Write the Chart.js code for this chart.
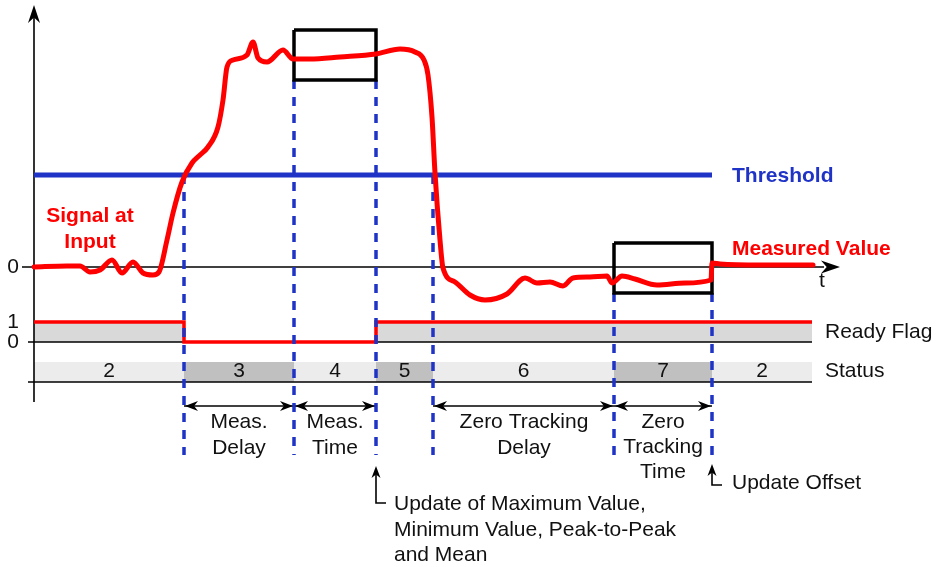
<!DOCTYPE html>
<html>
<head>
<meta charset="utf-8">
<script src="https://cdn.jsdelivr.net/npm/chart.js@4"></script>
<style>
  body { margin: 0; background: #fff; }
  canvas { display: block; }
</style>
</head>
<body>
<canvas id="timing" width="945" height="567"></canvas>
<script>
// signal at input (time in ticks, value in counts)
const signalTime = [0, 3.3, 4.6, 5.6, 6.6, 7.8, 8.8, 9.9, 10.9, 11.9, 12.5, 13.3, 13.9, 14.8, 15.8, 16.6, 17.4, 18.4, 18.9, 19.3,
  19.9, 21.3, 21.9, 22.4, 23.3, 24.9, 25.9, 27.6, 30.6, 34.2, 36.6, 38.1, 39.0, 39.4, 39.8, 40.1, 40.6, 40.9, 42.1, 43.6,
  45.1, 47.3, 49.1, 50.3, 51.6, 52.9, 53.9, 55.6, 57.3, 57.8, 58.8, 60.1, 62.3, 65.1, 67.7, 67.8, 68.6, 72.6, 77.9];
const signalValue = [0, 0.5, 0.5, -2.5, -1.5, 3.5, -3, 2.5, -3, -4, -2.5, 13.5, 27, 42.5, 52, 56, 60, 70, 83.5, 100,
  103.5, 106, 112.5, 104.5, 102.5, 108.5, 104, 104, 105, 106.5, 109, 107.5, 103.5, 96, 75, 47, 13.5, -0.5, -7.5, -14,
  -16.5, -13.5, -5.5, -8, -7.5, -9.5, -5.5, -5, -4.5, -8, -4.5, -6, -9, -8, -6.5, 2, 1.5, 1, 1];
const threshold = 46;

// events: ready drop, meas start, meas end, zero tracking delay start, zero tracking start, zero tracking end
const eventTimes = [15, 26, 34.2, 39.9, 58, 67.8];
const endTime = 77.8;

// measurement windows
const maxWindow = [93.5, 118.5];
const zeroWindow = [-13, 12];

// ready flag
const readyTime = [0, 15, 34.2, 77.8];
const readyValue = [1, 0, 1, 1];

// status
const statusCodes = ['2', '3', '4', '5', '6', '7', '2'];
const statusStart = [0, 15, 26, 34.2, 39.9, 58, 67.8];
const statusEnd = [15, 26, 34.2, 39.9, 58, 67.8, 77.8];
const statusDark = [false, true, false, true, false, true, false];

const RED = '#ff0000';
const BLUE = '#1f33c6';
const FONT = '"Liberation Sans", Arial, sans-serif';

const datasets = [];
const line = (pts, color, width, axis, extra) => Object.assign({
  data: pts, showLine: true, borderColor: color, borderWidth: width, pointRadius: 0,
  yAxisID: axis || 'y', fill: false, tension: 0, clip: false
}, extra || {});

// signal on top
datasets.push(line(signalTime.map((t, i) => ({ x: t, y: signalValue[i] })), RED, 5, 'y',
  { cubicInterpolationMode: 'monotone', order: 1, borderCapStyle: 'round', borderJoinStyle: 'round' }));

// windows
const box = (t0, t1, v) => [{ x: t0, y: v[1] }, { x: t1, y: v[1] }, { x: t1, y: v[0] }, { x: t0, y: v[0] }, { x: t0, y: v[1] }];
datasets.push(line(box(eventTimes[1], eventTimes[2], maxWindow), '#000', 3.5, 'y', { order: 2 }));
datasets.push(line(box(eventTimes[4], eventTimes[5], zeroWindow), '#000', 3.5, 'y', { order: 2 }));

// threshold
datasets.push(line([{ x: 0, y: threshold }, { x: eventTimes[5], y: threshold }], BLUE, 5, 'y', { order: 3 }));

// dashed event lines
const dashTop = [threshold, maxWindow[0], maxWindow[0], threshold, zeroWindow[0], zeroWindow[0]];
eventTimes.forEach((t, i) => {
  datasets.push(line([{ x: t, y: dashTop[i] }, { x: t, y: -94 }], BLUE, 3.5, 'y', { borderDash: [9, 8], order: 4 }));
});

// ready flag line (drawn above the black base line), grey area below it
const readyPts = readyTime.map((t, i) => ({ x: t, y: readyValue[i] }));
datasets.push(line(readyPts, RED, 3.5, 'yf', { stepped: true, order: 4.5 }));
datasets.push(line(readyPts, 'rgba(0,0,0,0)', 0, 'yf',
  { stepped: true, fill: 'origin', backgroundColor: '#d9d9d9', order: 9 }));

// axes
datasets.push(line([{ x: 0, y: -67.5 }, { x: 0, y: 128 }], '#000', 1.6, 'y', { order: 5 }));
datasets.push(line([{ x: -1.2, y: 0 }, { x: 79, y: 0 }], '#000', 1.6, 'y', { order: 5 }));
datasets.push(line([{ x: -0.6, y: 0 }, { x: endTime, y: 0 }], '#000', 1.6, 'yf', { order: 5 }));

// status band
statusCodes.forEach((c, i) => {
  datasets.push(line([{ x: statusStart[i], y: -1 }, { x: statusEnd[i], y: -1 }], 'rgba(0,0,0,0)', 0, 'yf',
    { fill: { value: -2 }, backgroundColor: statusDark[i] ? '#c0c0c0' : '#ececec', order: 9 }));
});
datasets.push(line([{ x: -0.6, y: -2 }, { x: endTime, y: -2 }], '#000', 1.6, 'yf', { order: 5 }));

// span arrows
const spans = [[0, 1], [1, 2], [3, 4], [4, 5]];
spans.forEach(s => {
  datasets.push(line([{ x: eventTimes[s[0]], y: -3.2 }, { x: eventTimes[s[1]], y: -3.2 }], '#000', 1.5, 'yf', { order: 5 }));
});

// update pointers
datasets.push(line([{ x: eventTimes[2], y: -6.4 }, { x: eventTimes[2], y: -8.05 }, { x: eventTimes[2] + 1, y: -8.05 }], '#000', 1.6, 'yf', { order: 5 }));
datasets.push(line([{ x: eventTimes[5], y: -6.3 }, { x: eventTimes[5], y: -7.15 }, { x: eventTimes[5] + 1, y: -7.15 }], '#000', 1.6, 'yf', { order: 5 }));

function arrowHead(ctx, x, y, ang, len, half) {
  ctx.save();
  ctx.translate(x, y);
  ctx.rotate(ang);
  ctx.beginPath();
  ctx.moveTo(0, 0);
  ctx.lineTo(-len, -half);
  ctx.lineTo(-len * 0.7, 0);
  ctx.lineTo(-len, half);
  ctx.closePath();
  ctx.fillStyle = '#000';
  ctx.fill();
  ctx.restore();
}

const texts = [
  { s: 'Threshold', t: 69.8, v: threshold - 0.5, axis: 'y', color: BLUE, bold: true, align: 'left' },
  { s: 'Measured Value', t: 69.8, v: 9, axis: 'y', color: RED, bold: true, align: 'left' },
  { s: 'Signal at', t: 5.6, v: 25.5, axis: 'y', color: RED, bold: true },
  { s: 'Input', t: 5.6, v: 12.5, axis: 'y', color: RED, bold: true },
  { s: '0', t: -1.5, v: 0, axis: 'y', align: 'right' },
  { s: 't', t: 78.8, v: -7, axis: 'y' },
  { s: '1', t: -1.5, v: 1, axis: 'yf', align: 'right' },
  { s: '0', t: -1.5, v: 0, axis: 'yf', align: 'right' },
  { s: 'Ready Flag', t: 79.1, v: 0.5, axis: 'yf', align: 'left' },
  { s: 'Status', t: 79.1, v: -1.45, axis: 'yf', align: 'left' },
  { s: 'Meas.', t: 20.5, v: -4, axis: 'yf' },
  { s: 'Delay', t: 20.5, v: -5.3, axis: 'yf' },
  { s: 'Meas.', t: 30.1, v: -4, axis: 'yf' },
  { s: 'Time', t: 30.1, v: -5.3, axis: 'yf' },
  { s: 'Zero Tracking', t: 49.0, v: -4, axis: 'yf' },
  { s: 'Delay', t: 49.0, v: -5.3, axis: 'yf' },
  { s: 'Zero', t: 62.9, v: -4, axis: 'yf' },
  { s: 'Tracking', t: 62.9, v: -5.25, axis: 'yf' },
  { s: 'Time', t: 62.9, v: -6.5, axis: 'yf' },
  { s: 'Update of Maximum Value,', t: 36.0, v: -8.1, axis: 'yf', align: 'left' },
  { s: 'Minimum Value, Peak-to-Peak', t: 36.0, v: -9.4, axis: 'yf', align: 'left' },
  { s: 'and Mean', t: 36.0, v: -10.65, axis: 'yf', align: 'left' },
  { s: 'Update Offset', t: 69.8, v: -7.05, axis: 'yf', align: 'left' }
];

const decor = {
  id: 'decor',
  afterDatasetsDraw(chart) {
    const ctx = chart.ctx, X = chart.scales.x;
    const px = t => X.getPixelForValue(t);
    const py = (v, a) => chart.scales[a].getPixelForValue(v);
    // status numbers
    ctx.save();
    ctx.font = '21px ' + FONT;
    ctx.fillStyle = '#111';
    ctx.textAlign = 'center';
    ctx.textBaseline = 'middle';
    statusCodes.forEach((c, i) => ctx.fillText(c, px((statusStart[i] + statusEnd[i]) / 2), py(-1.45, 'yf')));
    // labels
    texts.forEach(o => {
      ctx.font = (o.bold ? 'bold ' : '') + '21px ' + FONT;
      ctx.fillStyle = o.color || '#111';
      ctx.textAlign = o.align || 'center';
      ctx.fillText(o.s, px(o.t), py(o.v, o.axis));
    });
    ctx.restore();
    // axis arrows
    arrowHead(ctx, px(0), py(131, 'y'), -Math.PI / 2, 18, 6);
    arrowHead(ctx, px(80.6), py(0, 'y'), 0, 19, 6.5);
    // span arrows
    spans.forEach(s => {
      const y = py(-3.2, 'yf');
      arrowHead(ctx, px(eventTimes[s[0]]) + 1, y, Math.PI, 13, 5);
      arrowHead(ctx, px(eventTimes[s[1]]) - 1, y, 0, 13, 5);
    });
    arrowHead(ctx, px(eventTimes[2]), py(-6.2, 'yf'), -Math.PI / 2, 12, 4.5);
    arrowHead(ctx, px(eventTimes[5]), py(-6.1, 'yf'), -Math.PI / 2, 12, 4.5);
  }
};

new Chart(document.getElementById('timing'), {
  type: 'scatter',
  data: { datasets: datasets },
  options: {
    responsive: false,
    animation: false,
    layout: { padding: 0 },
    plugins: { legend: { display: false }, tooltip: { enabled: false } },
    scales: {
      x: { type: 'linear', min: -3.4, max: 91.1, display: false },
      y: { type: 'linear', min: -150, max: 133.5, display: false },
      yf: { type: 'linear', min: -11.25, max: 17.1, display: false }
    }
  },
  plugins: [decor]
});
</script>
</body>
</html>
